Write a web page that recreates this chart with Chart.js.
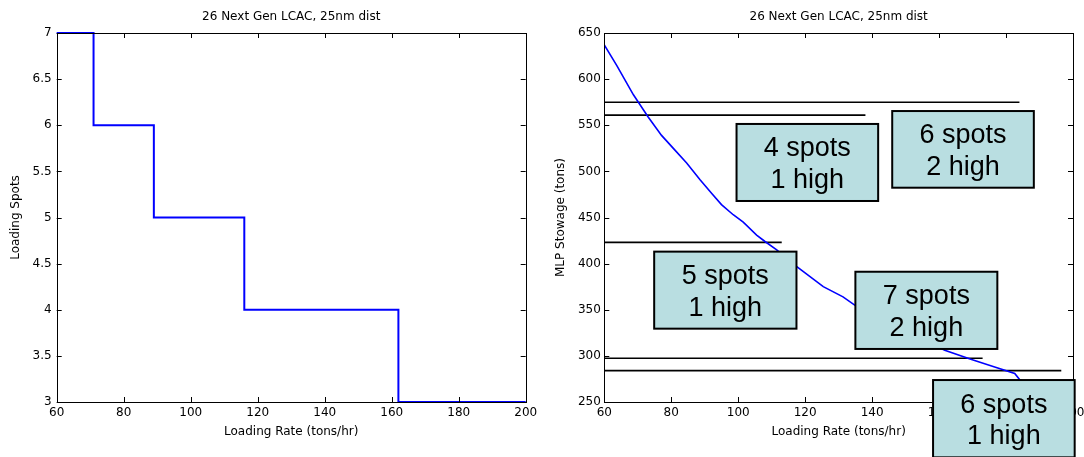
<!DOCTYPE html>
<html>
<head>
<meta charset="utf-8">
<script src="https://cdn.jsdelivr.net/npm/chart.js@4.4.0/dist/chart.umd.min.js"></script>
<style>
  html, body { margin: 0; padding: 0; background: #fff; overflow: hidden; }
  #leftBox { position: absolute; left: 0; top: 0; width: 540px; height: 457px; }
  #rightBox { position: absolute; left: 540px; top: 0; width: 544px; height: 457px; }
</style>
</head>
<body>
<div id="leftBox"><canvas id="spotsChart"></canvas></div>
<div id="rightBox"><canvas id="stowChart"></canvas></div>
<script>
// ------------------------
// DATA
// ------------------------
const chartTitle = "26 Next Gen LCAC, 25nm dist";
const xTitle = "Loading Rate (tons/hr)";

// left: loading spots vs rate (step)
const stepRate = [60, 71, 89, 116, 162, 200];
const stepSpots = [7, 6, 5, 4, 3, 3];

// right: MLP stowage curve
const curveRate = [60, 63.7, 68.7, 73.1, 77.1, 81.1, 84.6, 88.6, 92.1, 95, 98.5, 101.5, 105.5, 108, 111.5,
  117.4, 125.4, 131.3, 134.8, 140, 150, 155, 161.7, 169.7, 176.6, 182.6, 184.1, 190, 200];
const curveStow = [637, 615, 583, 559, 539, 523, 509, 491, 476, 464, 453, 445, 431, 424, 415,
  397, 375, 364, 355, 346, 328, 318, 306, 296, 288, 281, 274, 266, 256];

// right: horizontal capacity lines (start at 60)
const capLevels = [575, 561, 423, 297.5, 284];
const capEnds = [184, 138, 113, 173, 196.5];

// right: labelled boxes
const boxLines = [["4 spots", "1 high"], ["6 spots", "2 high"], ["5 spots", "1 high"], ["7 spots", "2 high"], ["6 spots", "1 high"]];
const boxLeft = [99.5, 146, 74.9, 135, 158.2];
const boxRight = [141.8, 188.3, 117.4, 177.4, 200.5];
const boxTop = [551.4, 565.4, 413, 391.2, 273.8];
const boxBottom = [467.9, 482.3, 329.5, 307.5, 190];

const xTicks = [60, 80, 100, 120, 140, 160, 180, 200];

Chart.defaults.font.family = '"DejaVu Sans", sans-serif';
Chart.defaults.font.size = 12;
Chart.defaults.color = "#000";

// ------------------------
// PLUGINS
// ------------------------
// matlab style frame: box, inward ticks, title over the plot
const framePlugin = {
  id: "frame",
  afterDatasetsDraw(chart) {
    const { ctx, chartArea: a, scales } = chart;
    ctx.save();
    ctx.strokeStyle = "#000";
    ctx.lineWidth = 1;
    ctx.strokeRect(Math.round(a.left) + 0.5, Math.round(a.top) + 0.5,
      Math.round(a.right - a.left), Math.round(a.bottom - a.top));
    ctx.beginPath();
    scales.x.ticks.forEach(t => {
      const px = Math.round(scales.x.getPixelForValue(t.value)) + 0.5;
      ctx.moveTo(px, a.bottom); ctx.lineTo(px, a.bottom - 5);
      ctx.moveTo(px, a.top); ctx.lineTo(px, a.top + 5);
    });
    scales.y.ticks.forEach(t => {
      const py = Math.round(scales.y.getPixelForValue(t.value)) + 0.5;
      ctx.moveTo(a.left, py); ctx.lineTo(a.left + 5, py);
      ctx.moveTo(a.right, py); ctx.lineTo(a.right - 5, py);
    });
    ctx.stroke();
    ctx.fillStyle = "#000";
    ctx.font = '12px "DejaVu Sans", sans-serif';
    ctx.textAlign = "center";
    ctx.textBaseline = "middle";
    ctx.fillText(chartTitle, (a.left + a.right) / 2, 17);
    ctx.restore();
  }
};

const boxPlugin = {
  id: "labelBoxes",
  afterDraw(chart) {
    if (chart.canvas.id !== "stowChart") return;
    const { ctx, scales } = chart;
    ctx.save();
    boxLines.forEach((lines, i) => {
      const x0 = scales.x.getPixelForValue(boxLeft[i]);
      const x1 = scales.x.getPixelForValue(boxRight[i]);
      const y0 = scales.y.getPixelForValue(boxTop[i]);
      const y1 = scales.y.getPixelForValue(boxBottom[i]);
      ctx.fillStyle = "#b9dee1";
      ctx.fillRect(x0, y0, x1 - x0, y1 - y0);
      ctx.strokeStyle = "#000";
      ctx.lineWidth = 2;
      ctx.strokeRect(x0, y0, x1 - x0, y1 - y0);
      const cx = (x0 + x1) / 2, cy = (y0 + y1) / 2;
      ctx.fillStyle = "#000";
      ctx.font = '27px "Liberation Sans", Arial, sans-serif';
      ctx.textAlign = "center";
      ctx.textBaseline = "alphabetic";
      ctx.fillText(lines[0], cx, cy - 6);
      ctx.fillText(lines[1], cx, cy + 25.5);
    });
    ctx.restore();
  }
};

function axisX() {
  return {
    type: "linear", min: 60, max: 200,
    afterBuildTicks: s => { s.ticks = xTicks.map(v => ({ value: v })); },
    afterFit: s => { s.height = 55; s.paddingLeft = 0; s.paddingRight = 0; },
    grid: { display: false, drawTicks: false },
    border: { display: false },
    ticks: { padding: 4, maxRotation: 0, autoSkip: false },
    title: { display: true, text: xTitle, padding: { top: 0, bottom: 18 } }
  };
}

// ------------------------
// LEFT CHART
// ------------------------
new Chart(document.getElementById("spotsChart"), {
  type: "line",
  data: {
    datasets: [{
      data: stepRate.map((x, i) => ({ x, y: stepSpots[i] })),
      borderColor: "#0000ff", borderWidth: 2, pointRadius: 0, stepped: "before", fill: false, clip: 3
    }]
  },
  options: {
    responsive: true, maintainAspectRatio: false, animation: false,
    layout: { padding: { top: 33, right: 14.3, bottom: 0, left: 0 } },
    plugins: { legend: { display: false }, tooltip: { enabled: false } },
    scales: {
      x: axisX(),
      y: {
        type: "linear", min: 3, max: 7,
        afterFit: s => { s.width = 56.7; s.paddingTop = 0; s.paddingBottom = 0; },
        grid: { display: false, drawTicks: false },
        border: { display: false },
        ticks: { stepSize: 0.5, padding: 5, callback: v => String(v) },
        title: { display: true, text: "Loading Spots", padding: { top: 9, bottom: 0 } }
      }
    }
  },
  plugins: [framePlugin]
});

// ------------------------
// RIGHT CHART
// ------------------------
const stowSets = capLevels.map((lvl, i) => ({
  data: [{ x: 60, y: lvl }, { x: capEnds[i], y: lvl }],
  borderColor: "#000", borderWidth: 1.6, pointRadius: 0, fill: false
}));
stowSets.unshift({
  data: curveRate.map((x, i) => ({ x, y: curveStow[i] })),
  borderColor: "#0000ff", borderWidth: 1.6, pointRadius: 0, fill: false, tension: 0
});

new Chart(document.getElementById("stowChart"), {
  type: "line",
  data: { datasets: stowSets },
  options: {
    responsive: true, maintainAspectRatio: false, animation: false,
    layout: { padding: { top: 33, right: 11, bottom: 0, left: 0 } },
    plugins: { legend: { display: false }, tooltip: { enabled: false } },
    scales: {
      x: axisX(),
      y: {
        type: "linear", min: 250, max: 650,
        afterFit: s => { s.width = 64.3; s.paddingTop = 0; s.paddingBottom = 0; },
        grid: { display: false, drawTicks: false },
        border: { display: false },
        ticks: { stepSize: 50, padding: 3.5 },
        title: { display: true, text: "MLP Stowage (tons)", padding: { top: 14, bottom: 0 } }
      }
    }
  },
  plugins: [framePlugin, boxPlugin]
});
</script>
</body>
</html>
